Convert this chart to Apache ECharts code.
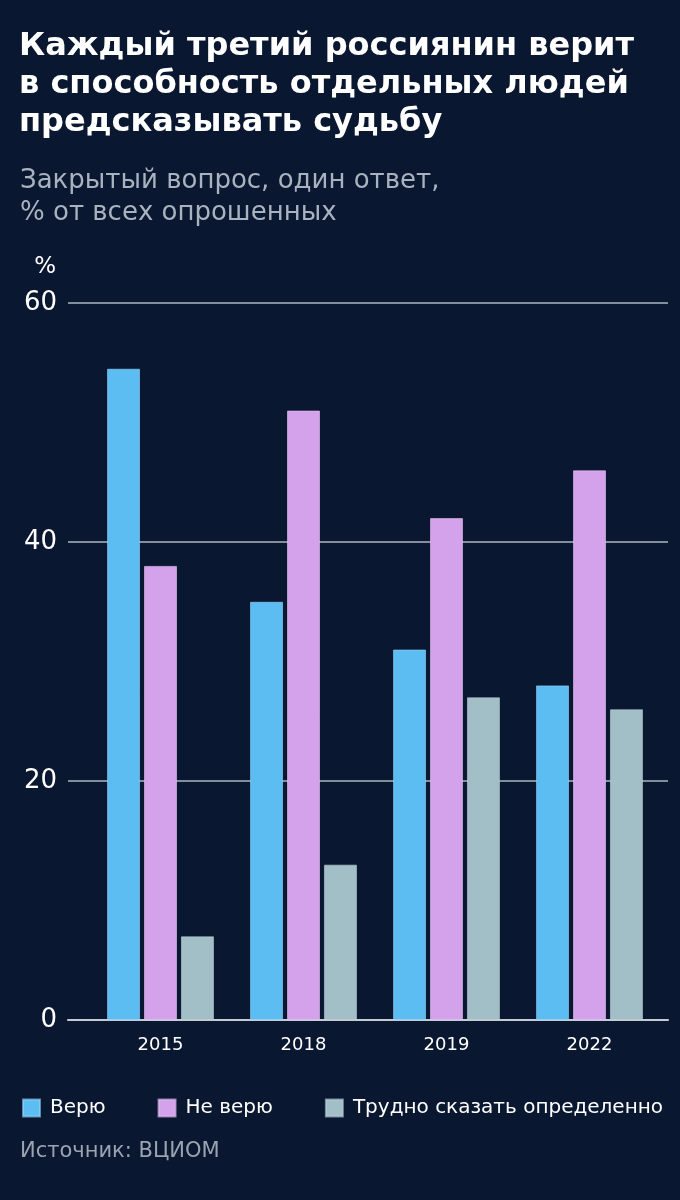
<!DOCTYPE html>
<html><head><meta charset="utf-8">
<script src="https://cdn.jsdelivr.net/npm/echarts@6/dist/echarts.min.js"></script>
<style>html,body{margin:0;padding:0;background:#0a1731;}#c{width:680px;height:1200px;}</style>
</head><body><div id="c"></div>
<script>
const categories = ['2015', '2018', '2019', '2022'];
const seriesNames = ['Верю', 'Не верю', 'Трудно сказать определенно'];
const believe = [54.5, 35, 31, 28];
const notBelieve = [38, 51, 42, 46];
const hardToSay = [7, 13, 27, 26];
const yTicks = [0, 20, 40, 60];
const colors = ['#5bbdf2', '#d4a2ea', '#a2bec6'];
const FONT = '"DejaVu Sans", sans-serif';

const yMin = yTicks[0], yMax = yTicks[yTicks.length - 1], yStep = yTicks[1] - yTicks[0];

const chart = echarts.init(document.getElementById('c'));
chart.setOption({
  backgroundColor: '#0a1731',
  animation: false,
  textStyle: { fontFamily: FONT },
  title: [
    { text: 'Каждый третий россиянин верит\nв способность отдельных людей\nпредсказывать судьбу', left: 14, top: 23,
      textStyle: { color: '#ffffff', fontSize: 32, fontWeight: 'bold', lineHeight: 38, fontFamily: FONT } },
    { text: 'Закрытый вопрос, один ответ,\n% от всех опрошенных', left: 15, top: 160,
      textStyle: { color: '#a9b2bf', fontSize: 26, fontWeight: 'normal', lineHeight: 32, fontFamily: FONT } },
    { text: 'Источник: ВЦИОМ', left: 15, top: 1136,
      textStyle: { color: '#9aa3b0', fontSize: 21, fontWeight: 'normal', fontFamily: FONT } }
  ],
  legend: {
    data: seriesNames, left: 17, top: 1093, icon: 'rect', itemWidth: 17, itemHeight: 17, itemGap: 52,
    textStyle: { color: '#ffffff', fontSize: 20, fontFamily: FONT, padding: [0, 0, 0, 5] }
  },
  grid: [
    { left: 68, right: 12, top: 303, bottom: 180, containLabel: false },
    { left: 89, right: 19, top: 303, bottom: 180, containLabel: false }
  ],
  xAxis: [
    { type: 'category', gridIndex: 0, data: categories, show: true,
      axisLine: { show: true, lineStyle: { color: '#c4cbd4', width: 2 } },
      axisTick: { show: false }, axisLabel: { show: false } },
    { type: 'category', gridIndex: 1, data: categories,
      axisLine: { show: false }, axisTick: { show: false },
      axisLabel: { color: '#ffffff', fontSize: 18, margin: 16, fontFamily: FONT } }
  ],
  yAxis: [
    { type: 'value', gridIndex: 0, min: yMin, max: yMax, interval: yStep,
      name: '%', nameLocation: 'end', nameGap: 24,
      nameTextStyle: { color: '#ffffff', fontSize: 23, align: 'right', padding: [0, 12, 0, 0], fontFamily: FONT },
      axisLine: { show: false }, axisTick: { show: false },
      axisLabel: { color: '#ffffff', fontSize: 26, margin: 11, fontFamily: FONT },
      splitLine: { lineStyle: { color: '#aeb6c2', width: 1.5 } } },
    { type: 'value', gridIndex: 1, min: yMin, max: yMax, interval: yStep, show: false,
      splitLine: { show: false } }
  ],
  series: [
    { name: seriesNames[0], type: 'bar', xAxisIndex: 1, yAxisIndex: 1, data: believe, barWidth: 33, barGap: '12%', z: 3,
      itemStyle: { color: colors[0], borderColor: 'rgba(150,215,250,0.6)', borderWidth: 1 } },
    { name: seriesNames[1], type: 'bar', xAxisIndex: 1, yAxisIndex: 1, data: notBelieve, barWidth: 33, barGap: '12%', z: 3,
      itemStyle: { color: colors[1], borderColor: 'rgba(230,195,245,0.6)', borderWidth: 1 } },
    { name: seriesNames[2], type: 'bar', xAxisIndex: 1, yAxisIndex: 1, data: hardToSay, barWidth: 33, barGap: '12%', z: 3,
      itemStyle: { color: colors[2], borderColor: 'rgba(190,210,216,0.6)', borderWidth: 1 } }
  ]
});
</script></body></html>
